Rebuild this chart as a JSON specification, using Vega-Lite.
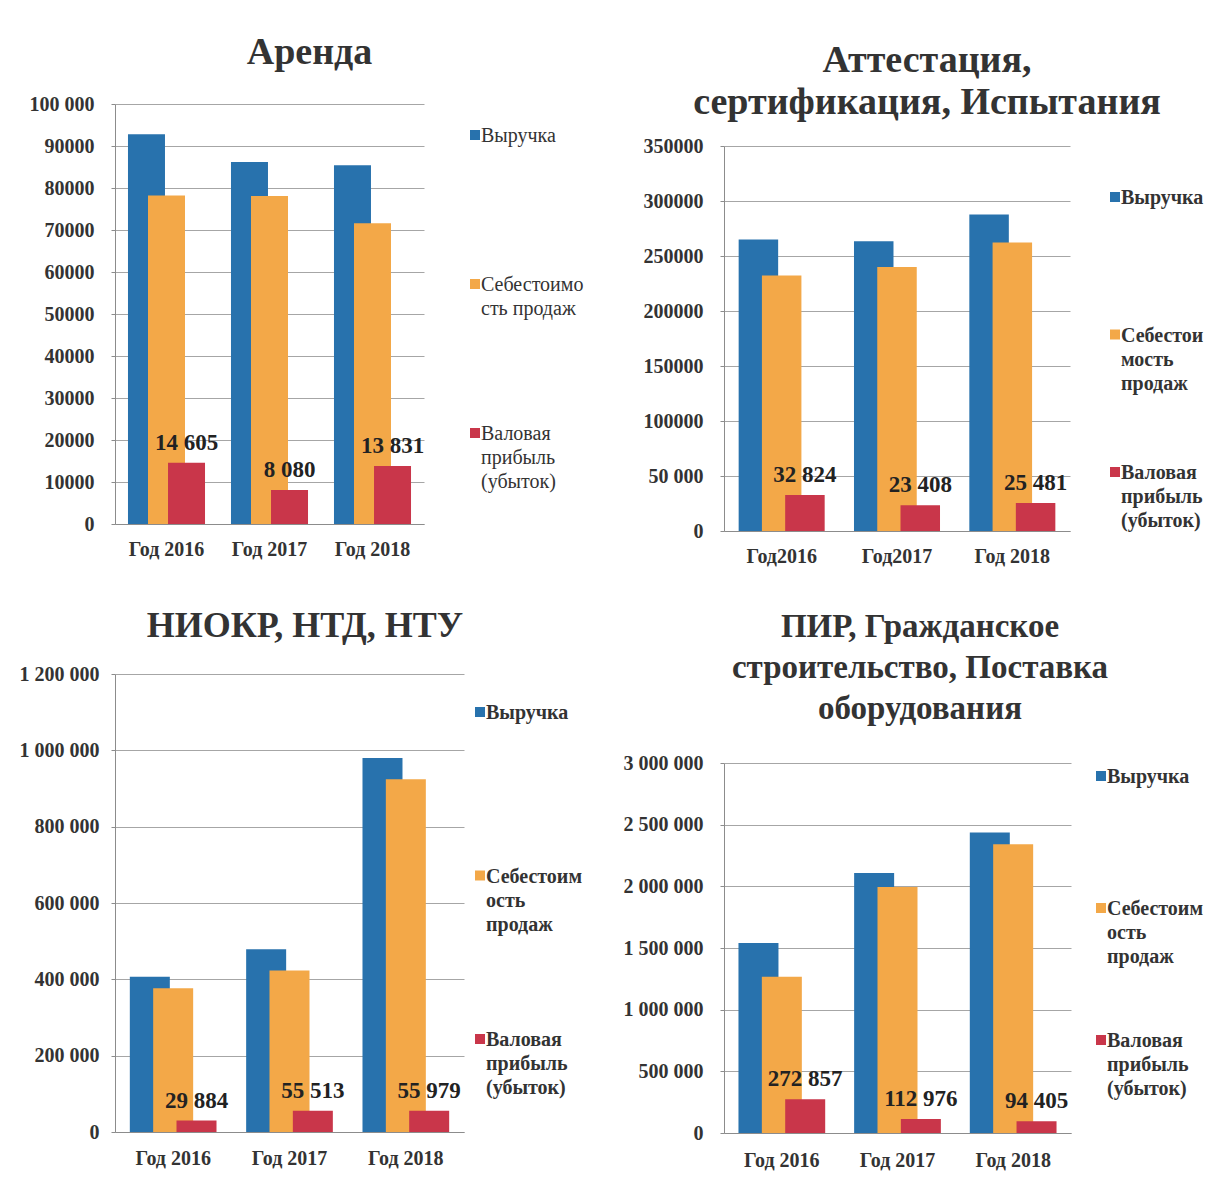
{
  "$schema": "https://vega.github.io/schema/vega-lite/v6.json",
  "background": "white",
  "padding": {"left": 15, "top": 34, "right": 5, "bottom": 5},
  "config": {
    "locale": {"number": {"decimal": ",", "thousands": " ", "grouping": [3], "currency": ["", ""]}},
    "font": "Liberation Serif",
    "view": {"stroke": null},
    "style": {"guide-label": {"lineHeight": 24}},
    "axis": {"labelFont": "Liberation Serif", "labelFontWeight": "bold", "labelFontSize": 20, "labelColor": "#333333", "domainColor": "#8c8c8c", "gridColor": "#a6a6a6", "tickColor": "#8c8c8c", "labelOverlap": false},
    "axisX": {"ticks": false, "labelPadding": 15, "labelAngle": 0, "grid": false},
    "axisY": {"tickSize": 4, "labelPadding": 17, "grid": true},
    "title": {"font": "Liberation Serif", "fontWeight": "bold", "fontSize": 35, "color": "#333333", "lineHeight": 42, "anchor": "middle", "offset": 20},
    "legend": {"title": null, "orient": "none", "direction": "vertical", "gridAlign": "all", "padding": 0, "symbolType": "M-1,0.8H1V2.8H-1Z", "symbolSize": 100, "symbolStrokeWidth": 0, "labelFont": "Liberation Serif", "labelFontSize": 20, "labelColor": "#333333", "labelBaseline": "top", "labelOffset": -4, "labelLimit": 400}
  },
  "datasets": {
    "arenda": [
      {"year": "Год 2016", "series": "Выручка", "value": 92800},
      {"year": "Год 2016", "series": "Себестоимость продаж", "value": 78200},
      {"year": "Год 2016", "series": "Валовая прибыль (убыток)", "value": 14605},
      {"year": "Год 2017", "series": "Выручка", "value": 86200},
      {"year": "Год 2017", "series": "Себестоимость продаж", "value": 78100},
      {"year": "Год 2017", "series": "Валовая прибыль (убыток)", "value": 8080},
      {"year": "Год 2018", "series": "Выручка", "value": 85400},
      {"year": "Год 2018", "series": "Себестоимость продаж", "value": 71600},
      {"year": "Год 2018", "series": "Валовая прибыль (убыток)", "value": 13831}
    ],
    "attest": [
      {"year": "Год2016", "series": "Выручка", "value": 265000},
      {"year": "Год2016", "series": "Себестоимость продаж", "value": 232200},
      {"year": "Год2016", "series": "Валовая прибыль (убыток)", "value": 32824},
      {"year": "Год2017", "series": "Выручка", "value": 263300},
      {"year": "Год2017", "series": "Себестоимость продаж", "value": 239900},
      {"year": "Год2017", "series": "Валовая прибыль (убыток)", "value": 23408},
      {"year": "Год 2018", "series": "Выручка", "value": 287800},
      {"year": "Год 2018", "series": "Себестоимость продаж", "value": 262300},
      {"year": "Год 2018", "series": "Валовая прибыль (убыток)", "value": 25481}
    ],
    "niokr": [
      {"year": "Год 2016", "series": "Выручка", "value": 406500},
      {"year": "Год 2016", "series": "Себестоимость продаж", "value": 376600},
      {"year": "Год 2016", "series": "Валовая прибыль (убыток)", "value": 29884},
      {"year": "Год 2017", "series": "Выручка", "value": 478500},
      {"year": "Год 2017", "series": "Себестоимость продаж", "value": 423000},
      {"year": "Год 2017", "series": "Валовая прибыль (убыток)", "value": 55513},
      {"year": "Год 2018", "series": "Выручка", "value": 980000},
      {"year": "Год 2018", "series": "Себестоимость продаж", "value": 924000},
      {"year": "Год 2018", "series": "Валовая прибыль (убыток)", "value": 55979}
    ],
    "pir": [
      {"year": "Год 2016", "series": "Выручка", "value": 1540000},
      {"year": "Год 2016", "series": "Себестоимость продаж", "value": 1267000},
      {"year": "Год 2016", "series": "Валовая прибыль (убыток)", "value": 272857},
      {"year": "Год 2017", "series": "Выручка", "value": 2108000},
      {"year": "Год 2017", "series": "Себестоимость продаж", "value": 1995000},
      {"year": "Год 2017", "series": "Валовая прибыль (убыток)", "value": 112976},
      {"year": "Год 2018", "series": "Выручка", "value": 2436000},
      {"year": "Год 2018", "series": "Себестоимость продаж", "value": 2341000},
      {"year": "Год 2018", "series": "Валовая прибыль (убыток)", "value": 94405}
    ]
  },
  "spacing": 39,
  "resolve": {"scale": {"color": "independent", "x": "independent", "y": "independent", "xOffset": "independent"}, "legend": {"color": "independent"}},
  "hconcat": [
    {
      "spacing": 42,
      "resolve": {"scale": {"color": "independent", "x": "independent", "y": "independent", "xOffset": "independent"}, "legend": {"color": "independent"}},
      "vconcat": [
        {
          "title": {"text": "Аренда", "dx": 40, "fontSize": 38, "offset": 22},
          "width": 309, "height": 378,
          "data": {"name": "arenda"},
          "layer": [
            {
              "mark": {"type": "bar", "width": 37},
              "encoding": {
                "x": {"field": "year", "type": "nominal", "sort": null, "title": null, "scale": {"paddingInner": 0.417, "paddingOuter": 0.2085}},
                "xOffset": {"field": "series", "type": "nominal", "sort": null, "scale": {"domain": ["Выручка", "Себестоимость продаж", "Валовая прибыль (убыток)"]}},
                "y": {"field": "value", "type": "quantitative", "stack": null, "title": null, "scale": {"domain": [0, 100000], "nice": false, "range": [378, -42]}, "axis": {"values": [0, 10000, 20000, 30000, 40000, 50000, 60000, 70000, 80000, 90000, 100000], "tickCount": 20, "minExtent": 100, "labelOverlap": false, "labelExpr": "datum.value >= 100000 ? format(datum.value, ',d') : format(datum.value, 'd')"}},
                "color": {"field": "series", "type": "nominal", "scale": {"domain": ["Выручка", "Себестоимость продаж", "Валовая прибыль (убыток)"], "range": ["#2872ad", "#f3a848", "#c9364a"]}, "legend": {"legendX": 350, "legendY": -30, "rowPadding": 71, "labelFontWeight": "normal", "labelExpr": "datum.label === 'Выручка' ? 'Выручка' : datum.label === 'Себестоимость продаж' ? ['Себестоимо', 'сть продаж'] : ['Валовая', 'прибыль', '(убыток)']"}}
              }
            },
            {
              "transform": [{"filter": "datum.series === 'Валовая прибыль (убыток)'"}],
              "mark": {"type": "text", "dy": -13, "baseline": "alphabetic", "fontSize": 23, "fontWeight": "bold", "color": "#222222", "font": "Liberation Serif"},
              "encoding": {
                "x": {"field": "year", "type": "nominal", "sort": null},
                "xOffset": {"field": "series", "type": "nominal"},
                "y": {"field": "value", "type": "quantitative"},
                "text": {"field": "value", "type": "quantitative", "format": ",d"}
              }
            }
          ]
        },
        {
          "title": {"text": "НИОКР, НТД, НТУ", "dx": 15.5, "fontSize": 36, "offset": 19},
          "width": 349, "height": 458,
          "data": {"name": "niokr"},
          "layer": [
            {
              "mark": {"type": "bar", "width": 40},
              "encoding": {
                "x": {"field": "year", "type": "nominal", "sort": null, "title": null, "scale": {"paddingInner": 0.398, "paddingOuter": 0.199}, "axis": {"labelPadding": 16}},
                "xOffset": {"field": "series", "type": "nominal", "sort": null, "scale": {"domain": ["Выручка", "Себестоимость продаж", "Валовая прибыль (убыток)"]}},
                "y": {"field": "value", "type": "quantitative", "stack": null, "title": null, "scale": {"domain": [0, 1200000], "nice": false}, "axis": {"values": [0, 200000, 400000, 600000, 800000, 1000000, 1200000], "tickCount": 20, "minExtent": 100, "labelPadding": 12, "format": ",d"}},
                "color": {"field": "series", "type": "nominal", "scale": {"domain": ["Выручка", "Себестоимость продаж", "Валовая прибыль (убыток)"], "range": ["#2872ad", "#f3a848", "#c9364a"]}, "legend": {"legendX": 355, "legendY": 19, "rowPadding": 85.5, "labelFontWeight": "bold", "labelExpr": "datum.label === 'Выручка' ? 'Выручка' : datum.label === 'Себестоимость продаж' ? ['Себестоим', 'ость', 'продаж'] : ['Валовая', 'прибыль', '(убыток)']"}}
              }
            },
            {
              "transform": [{"filter": "datum.series === 'Валовая прибыль (убыток)'"}],
              "mark": {"type": "text", "dy": -13, "baseline": "alphabetic", "fontSize": 23, "fontWeight": "bold", "color": "#222222", "font": "Liberation Serif"},
              "encoding": {
                "x": {"field": "year", "type": "nominal", "sort": null},
                "xOffset": {"field": "series", "type": "nominal"},
                "y": {"field": "value", "type": "quantitative"},
                "text": {"field": "value", "type": "quantitative", "format": ",d"}
              }
            }
          ]
        }
      ]
    },
    {
      "spacing": 45,
      "resolve": {"scale": {"color": "independent", "x": "independent", "y": "independent", "xOffset": "independent"}, "legend": {"color": "independent"}},
      "vconcat": [
        {
          "title": {"text": ["Аттестация,", "сертификация, Испытания"], "dx": 30, "fontSize": 38, "lineHeight": 42.5, "offset": 14},
          "width": 346, "height": 385,
          "data": {"name": "attest"},
          "layer": [
            {
              "mark": {"type": "bar", "width": 39.5},
              "encoding": {
                "x": {"field": "year", "type": "nominal", "sort": null, "title": null, "scale": {"paddingInner": 0.395, "paddingOuter": 0.1975}},
                "xOffset": {"field": "series", "type": "nominal", "sort": null, "scale": {"domain": ["Выручка", "Себестоимость продаж", "Валовая прибыль (убыток)"]}},
                "y": {"field": "value", "type": "quantitative", "stack": null, "title": null, "scale": {"domain": [0, 350000], "nice": false}, "axis": {"values": [0, 50000, 100000, 150000, 200000, 250000, 300000, 350000], "tickCount": 20, "minExtent": 100, "labelExpr": "datum.value >= 100000 ? format(datum.value, 'd') : format(datum.value, ',d')"}},
                "color": {"field": "series", "type": "nominal", "scale": {"domain": ["Выручка", "Себестоимость продаж", "Валовая прибыль (убыток)"], "range": ["#2872ad", "#f3a848", "#c9364a"]}, "legend": {"legendX": 381, "legendY": 32, "rowPadding": 59.5, "labelFontWeight": "bold", "labelExpr": "datum.label === 'Выручка' ? 'Выручка' : datum.label === 'Себестоимость продаж' ? ['Себестои', 'мость', 'продаж'] : ['Валовая', 'прибыль', '(убыток)']"}}
              }
            },
            {
              "transform": [{"filter": "datum.series === 'Валовая прибыль (убыток)'"}],
              "mark": {"type": "text", "dy": -13, "baseline": "alphabetic", "fontSize": 23, "fontWeight": "bold", "color": "#222222", "font": "Liberation Serif"},
              "encoding": {
                "x": {"field": "year", "type": "nominal", "sort": null},
                "xOffset": {"field": "series", "type": "nominal"},
                "y": {"field": "value", "type": "quantitative"},
                "text": {"field": "value", "type": "quantitative", "format": ",d"}
              }
            }
          ]
        },
        {
          "title": {"text": ["ПИР, Гражданское", "строительство, Поставка", "оборудования"], "dx": 22.5, "fontSize": 33, "lineHeight": 41, "offset": 27},
          "width": 347, "height": 370,
          "data": {"name": "pir"},
          "layer": [
            {
              "mark": {"type": "bar", "width": 40},
              "encoding": {
                "x": {"field": "year", "type": "nominal", "sort": null, "title": null, "scale": {"paddingInner": 0.394, "paddingOuter": 0.197}, "axis": {"labelPadding": 17}},
                "xOffset": {"field": "series", "type": "nominal", "sort": null, "scale": {"domain": ["Выручка", "Себестоимость продаж", "Валовая прибыль (убыток)"]}},
                "y": {"field": "value", "type": "quantitative", "stack": null, "title": null, "scale": {"domain": [0, 3000000], "nice": false}, "axis": {"values": [0, 500000, 1000000, 1500000, 2000000, 2500000, 3000000], "tickCount": 20, "minExtent": 100, "format": ",d"}},
                "color": {"field": "series", "type": "nominal", "scale": {"domain": ["Выручка", "Себестоимость продаж", "Валовая прибыль (убыток)"], "range": ["#2872ad", "#f3a848", "#c9364a"]}, "legend": {"legendX": 367, "legendY": -6, "rowPadding": 54, "labelFontWeight": "bold", "labelExpr": "datum.label === 'Выручка' ? 'Выручка' : datum.label === 'Себестоимость продаж' ? ['Себестоим', 'ость', 'продаж'] : ['Валовая', 'прибыль', '(убыток)']"}}
              }
            },
            {
              "transform": [{"filter": "datum.series === 'Валовая прибыль (убыток)'"}],
              "mark": {"type": "text", "dy": -13, "baseline": "alphabetic", "fontSize": 23, "fontWeight": "bold", "color": "#222222", "font": "Liberation Serif"},
              "encoding": {
                "x": {"field": "year", "type": "nominal", "sort": null},
                "xOffset": {"field": "series", "type": "nominal"},
                "y": {"field": "value", "type": "quantitative"},
                "text": {"field": "value", "type": "quantitative", "format": ",d"}
              }
            }
          ]
        }
      ]
    }
  ]
}
